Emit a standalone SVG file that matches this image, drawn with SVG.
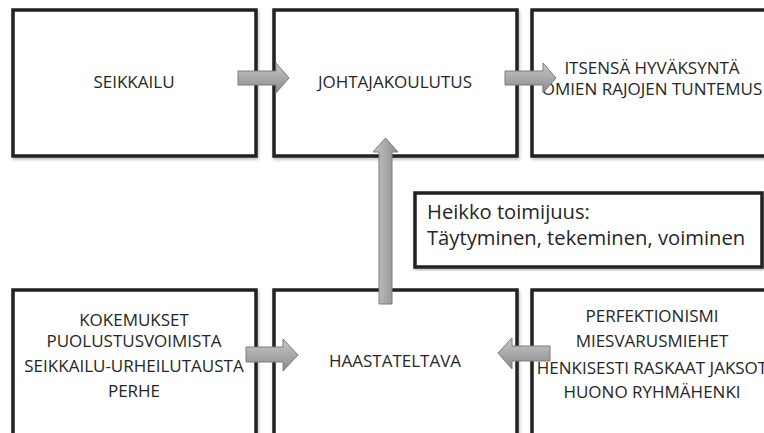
<svg xmlns="http://www.w3.org/2000/svg" width="764" height="433" viewBox="0 0 764 433">
  <style>
    .box { fill: #ffffff; stroke: #222222; stroke-width: 3.5; }
    .lbl { font-family: "Open Sans", "Liberation Sans", sans-serif; font-size: 17px; fill: #262626; text-anchor: middle; }
    .note { font-family: "Open Sans", "Liberation Sans", sans-serif; font-size: 20.2px; fill: #262626; }
    .arrow { fill: url(#arrowFillH); stroke: #7c7c7c; stroke-width: 1; }
    .arrowV { fill: url(#arrowFillV); stroke: #7c7c7c; stroke-width: 1; }
  </style>
  <defs>
    <linearGradient id="arrowFillH" x1="0" y1="0" x2="0" y2="1">
      <stop offset="0" stop-color="#c9c9cb"/>
      <stop offset="0.5" stop-color="#a9a9ab"/>
      <stop offset="1" stop-color="#8a8a8c"/>
    </linearGradient>
    <linearGradient id="arrowFillV" x1="0" y1="0" x2="1" y2="0">
      <stop offset="0" stop-color="#c9c9cb"/>
      <stop offset="0.5" stop-color="#a9a9ab"/>
      <stop offset="1" stop-color="#8a8a8c"/>
    </linearGradient>
    <filter id="shadow" x="-5%" y="-5%" width="110%" height="110%">
      <feDropShadow dx="1" dy="2" stdDeviation="1.5" flood-color="#000000" flood-opacity="0.25"/>
    </filter>
  </defs>

  <!-- top row -->
  <g id="seikkailu">
    <rect class="box" x="13" y="10" width="243" height="146" filter="url(#shadow)"/>
    <text class="lbl" x="134" y="88">SEIKKAILU</text>
  </g>
  <g id="johtajakoulutus">
    <rect class="box" x="274" y="10" width="243" height="146" filter="url(#shadow)"/>
    <text class="lbl" x="395" y="88">JOHTAJAKOULUTUS</text>
  </g>
  <g id="tulokset">
    <rect class="box" x="532" y="10" width="243" height="146" filter="url(#shadow)"/>
    <text class="lbl" x="652" y="74">ITSENSÄ HYVÄKSYNTÄ</text>
    <text class="lbl" x="652" y="95">OMIEN RAJOJEN TUNTEMUS</text>
  </g>

  <!-- note box -->
  <g id="toimijuus">
    <rect class="box" x="415" y="193" width="347" height="74" filter="url(#shadow)"/>
    <text class="note" x="427" y="219">Heikko toimijuus:</text>
    <text class="note" x="427" y="245">Täytyminen, tekeminen, voiminen</text>
  </g>

  <!-- bottom row -->
  <g id="tausta">
    <rect class="box" x="13" y="290" width="243" height="160" filter="url(#shadow)"/>
    <text class="lbl" x="134" y="326">KOKEMUKSET</text>
    <text class="lbl" x="134" y="347">PUOLUSTUSVOIMISTA</text>
    <text class="lbl" x="134" y="372">SEIKKAILU-URHEILUTAUSTA</text>
    <text class="lbl" x="134" y="397">PERHE</text>
  </g>
  <g id="haastateltava">
    <rect class="box" x="274" y="290" width="243" height="160" filter="url(#shadow)"/>
    <text class="lbl" x="395" y="367">HAASTATELTAVA</text>
  </g>
  <g id="haasteet">
    <rect class="box" x="532" y="290" width="243" height="160" filter="url(#shadow)"/>
    <text class="lbl" x="652" y="322">PERFEKTIONISMI</text>
    <text class="lbl" x="652" y="347">MIESVARUSMIEHET</text>
    <text class="lbl" x="652" y="374">HENKISESTI RASKAAT JAKSOT</text>
    <text class="lbl" x="652" y="398">HUONO RYHMÄHENKI</text>
  </g>

  <!-- connectors: block arrows -->
  <g id="connectors">
    <polygon class="arrow" points="238,71 276,71 276,63 289,78 276,93 276,85 238,85"/>
    <polygon class="arrow" points="505,71 543,71 543,63 556,78 543,93 543,85 505,85"/>
    <polygon class="arrowV" points="379,304 379,152 373,152 385.5,138 398,152 392,152 392,304"/>
    <polygon class="arrow" points="246,347 283,347 283,339 298,355 283,371 283,362 246,362"/>
    <polygon class="arrow" points="550,346 512,346 512,338 498,353 512,369 512,361 550,361"/>
  </g>
</svg>
